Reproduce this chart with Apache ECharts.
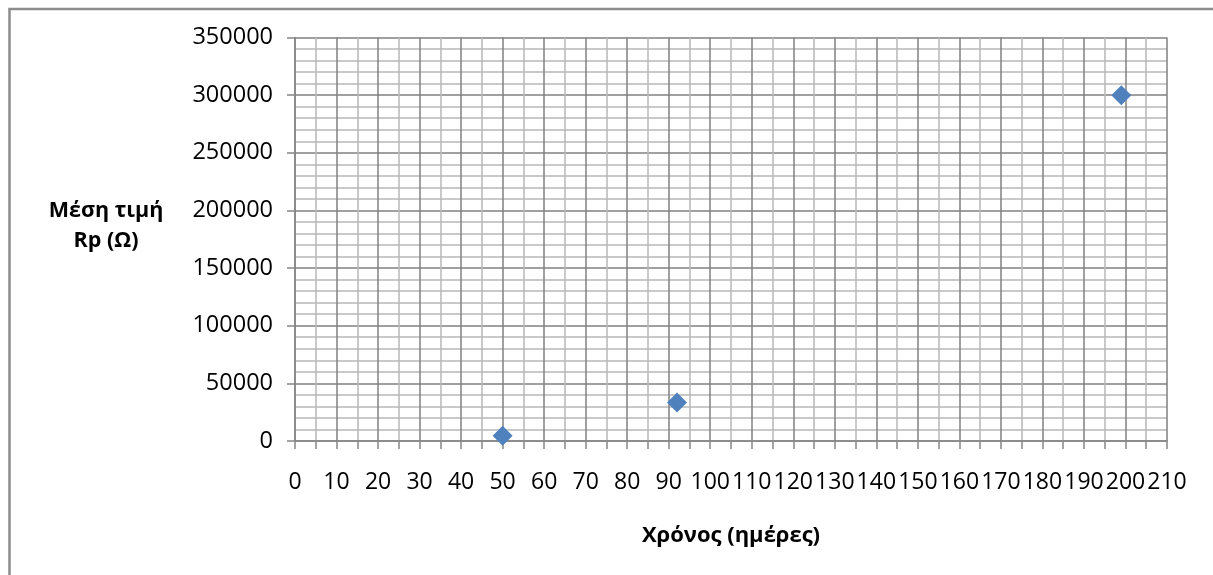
<!DOCTYPE html>
<html>
<head>
<meta charset="utf-8">
<style>
  html, body { margin: 0; padding: 0; background: #fff; }
  #chart { width: 1213px; height: 575px; }
</style>
<script src="https://cdn.jsdelivr.net/npm/echarts@6/dist/echarts.min.js"></script>
</head>
<body>
<div id="chart"></div>
<script>
// Measurements: days elapsed vs. mean polarisation resistance Rp
const days = [50, 92, 199];
const meanRp = [4500, 33500, 300000];

const xTitle = 'Χρόνος (ημέρες)';
const yTitle = ['Μέση τιμή', 'Rp (Ω)'];

const FONT = '"Open Sans", "DejaVu Sans", sans-serif';

const chart = echarts.init(document.getElementById('chart'), null, { renderer: 'canvas' });

chart.setOption({
  animation: false,
  backgroundColor: '#ffffff',
  grid: { left: 295, right: 46, top: 37.5, bottom: 134, containLabel: false },
  xAxis: {
    type: 'value',
    min: 0, max: 210, interval: 10,
    axisLine: { show: true, onZero: false, lineStyle: { color: '#868686', width: 1.5 } },
    axisTick: { show: true, length: 8, lineStyle: { color: '#868686', width: 1.5 } },
    minorTick: { show: true, splitNumber: 2, length: 8, lineStyle: { color: '#868686', width: 1.5 } },
    splitLine: { show: true, lineStyle: { color: '#808080', width: 1.5 } },
    minorSplitLine: { show: true, lineStyle: { color: '#b8b8b8', width: 1.5 } },
    axisLabel: { color: '#000', fontFamily: FONT, fontSize: 23, margin: 30, formatter: v => String(v) }
  },
  yAxis: {
    type: 'value',
    min: 0, max: 350000, interval: 50000,
    axisLine: { show: true, lineStyle: { color: '#868686', width: 1.5 } },
    axisTick: { show: true, length: 8, lineStyle: { color: '#868686', width: 1.5 } },
    minorTick: { show: false, splitNumber: 5 },
    splitLine: { show: true, lineStyle: { color: '#808080', width: 1.5 } },
    minorSplitLine: { show: true, lineStyle: { color: '#b8b8b8', width: 1.5 } },
    axisLabel: { color: '#000', fontFamily: FONT, fontSize: 23.5, margin: 22, formatter: v => String(v) }
  },
  series: [{
    type: 'scatter',
    symbol: 'diamond',
    symbolSize: 20,
    itemStyle: { color: '#4f81bd', opacity: 1 },
    data: days.map((d, i) => [d, meanRp[i]])
  }],
  graphic: [
    {
      type: 'rect',
      shape: { x: 9.5, y: 9, width: 1400, height: 800 },
      style: { fill: 'none', stroke: '#8c8c8c', lineWidth: 2.5 },
      silent: true
    },
    {
      type: 'text',
      x: 106, y: 211,
      style: { text: yTitle[0], fontFamily: FONT, fontSize: 21.5, fontWeight: 'bold', fill: '#000', align: 'center', verticalAlign: 'middle' }
    },
    {
      type: 'text',
      x: 106, y: 241,
      style: { text: yTitle[1], fontFamily: FONT, fontSize: 21.5, fontWeight: 'bold', fill: '#000', align: 'center', verticalAlign: 'middle' }
    },
    {
      type: 'text',
      x: 731, y: 536,
      style: { text: xTitle, fontFamily: FONT, fontSize: 22, fontWeight: 'bold', fill: '#000', align: 'center', verticalAlign: 'middle' }
    }
  ]
});
</script>
</body>
</html>
